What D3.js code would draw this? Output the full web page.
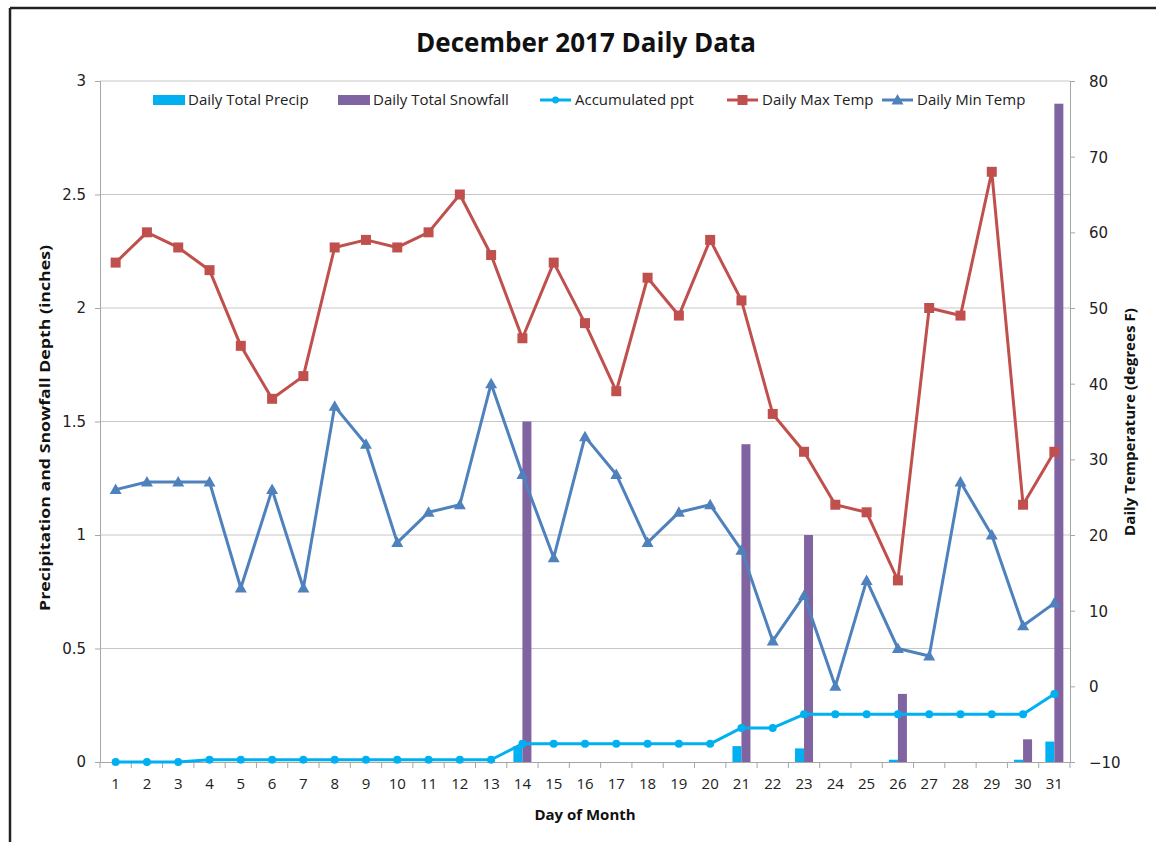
<!DOCTYPE html>
<html>
<head>
<meta charset="utf-8">
<script src="https://cdn.jsdelivr.net/npm/d3@7"></script>
<style>
  body { margin: 0; background: #fff; }
  svg { display: block; }
</style>
</head>
<body>
<svg id="chart" width="1156" height="842"></svg>
<script>
// day-by-day values
var days = d3.range(1, 32);
var dailyPrecip = [0, 0, 0, 0, 0, 0, 0, 0, 0, 0, 0, 0, 0, 0.07, 0, 0, 0, 0, 0, 0, 0.07, 0, 0.06, 0, 0, 0.01, 0, 0, 0, 0.01, 0.09];
var dailySnow = [0, 0, 0, 0, 0, 0, 0, 0, 0, 0, 0, 0, 0, 1.5, 0, 0, 0, 0, 0, 0, 1.4, 0, 1.0, 0, 0, 0.3, 0, 0, 0, 0.1, 2.9];
var accumPpt = [0, 0, 0, 0.01, 0.01, 0.01, 0.01, 0.01, 0.01, 0.01, 0.01, 0.01, 0.01, 0.08, 0.08, 0.08, 0.08, 0.08, 0.08, 0.08, 0.15, 0.15, 0.21, 0.21, 0.21, 0.21, 0.21, 0.21, 0.21, 0.21, 0.30];
var maxTemp = [56, 60, 58, 55, 45, 38, 41, 58, 59, 58, 60, 65, 57, 46, 56, 48, 39, 54, 49, 59, 51, 36, 31, 24, 23, 14, 50, 49, 68, 24, 31];
var minTemp = [26, 27, 27, 27, 13, 26, 13, 37, 32, 19, 23, 24, 40, 28, 17, 33, 28, 19, 23, 24, 18, 6, 12, 0, 14, 5, 4, 27, 20, 8, 11];
var leftTicks = [0, 0.5, 1, 1.5, 2, 2.5, 3];
var rightTicks = [-10, 0, 10, 20, 30, 40, 50, 60, 70, 80];

var colPrecip = "#00b0f0", colSnow = "#8064a2", colAccum = "#00b0f0",
    colMax = "#c0504d", colMin = "#4f81bd";

var svg = d3.select("#chart");
var margin = {top: 81, left: 100, bottom: 80, right: 86};
var W = 1156, H = 842;
var plotW = W - margin.left - margin.right;
var plotH = H - margin.top - margin.bottom;

// frame lines (top and left only visible)
svg.append("line").attr("x1", 10).attr("x2", W).attr("y1", 8).attr("y2", 8)
  .style("stroke", "#222").style("stroke-width", 2.5);
svg.append("line").attr("x1", 10).attr("x2", 10).attr("y1", 8).attr("y2", H)
  .style("stroke", "#222").style("stroke-width", 2.5);

var x = d3.scaleBand().domain(days).range([margin.left, margin.left + plotW]);
var yL = d3.scaleLinear().domain([0, 3]).range([margin.top + plotH, margin.top]);
var yR = d3.scaleLinear().domain([-10, 80]).range([margin.top + plotH, margin.top]);

var g = svg.append("g");

// gridlines
g.append("g").selectAll("line").data(leftTicks.slice(1)).join("line")
  .attr("x1", margin.left).attr("x2", margin.left + plotW)
  .attr("y1", d => yL(d)).attr("y2", d => yL(d))
  .style("stroke", "#c6c6c6").style("stroke-width", 1);

var tickFont = '"DejaVu Sans", Verdana, sans-serif';
var calFont = '"Open Sans", "Liberation Sans", sans-serif';

// left axis
var axL = g.append("g").attr("transform", "translate(" + margin.left + ",0)")
  .call(d3.axisLeft(yL).tickValues(leftTicks).tickSize(5).tickPadding(9).tickFormat(d3.format("")));
axL.select(".domain").style("stroke", "#a6a6a6");
axL.selectAll(".tick line").style("stroke", "#a6a6a6");
axL.selectAll("text").style("font-family", tickFont).style("font-size", "15px").style("fill", "#222");

// right axis
var axR = g.append("g").attr("transform", "translate(" + (margin.left + plotW) + ",0)")
  .call(d3.axisRight(yR).tickValues(rightTicks).tickSize(5).tickPadding(14));
axR.select(".domain").style("stroke", "#a6a6a6");
axR.selectAll(".tick line").style("stroke", "#a6a6a6");
axR.selectAll("text").style("font-family", tickFont).style("font-size", "15px").style("fill", "#222")
  .attr("dy", "0.36em");

// bottom axis
var axB = g.append("g").attr("transform", "translate(0," + (margin.top + plotH) + ")")
  .call(d3.axisBottom(x).tickSize(0).tickPadding(16));
axB.select(".domain").style("stroke", "#a6a6a6");
axB.selectAll("text").style("font-family", calFont).style("font-size", "15px").style("fill", "#222");
// category boundary ticks
g.append("g").selectAll("line").data(days.concat([32])).join("line")
  .attr("x1", d => d <= 31 ? x(d) : margin.left + plotW)
  .attr("x2", d => d <= 31 ? x(d) : margin.left + plotW)
  .attr("y1", margin.top + plotH).attr("y2", margin.top + plotH + 6)
  .style("stroke", "#a6a6a6");

// bars
var barW = 9;
var cx = d => x(d) + x.bandwidth() / 2;
g.append("g").selectAll("rect").data(days).join("rect")
  .attr("x", d => cx(d) - barW)
  .attr("width", barW)
  .attr("y", (d, i) => yL(dailyPrecip[i]))
  .attr("height", (d, i) => yL(0) - yL(dailyPrecip[i]))
  .style("fill", colPrecip);
g.append("g").selectAll("rect").data(days).join("rect")
  .attr("x", d => cx(d))
  .attr("width", barW)
  .attr("y", (d, i) => yL(dailySnow[i]))
  .attr("height", (d, i) => yL(0) - yL(dailySnow[i]))
  .style("fill", colSnow);

// lines
function drawSeries(vals, scale, color, marker) {
  var line = d3.line().x((d, i) => cx(days[i])).y(d => scale(d));
  var s = g.append("g");
  s.append("path").datum(vals).attr("d", line)
    .style("fill", "none").style("stroke", color).style("stroke-width", 3)
    .style("stroke-linejoin", "round");
  var m = s.selectAll(".m").data(vals).join("path")
    .attr("transform", (d, i) => "translate(" + cx(days[i]) + "," + scale(d) + ")")
    .style("fill", color);
  if (marker == "circle") m.attr("d", d3.symbol(d3.symbolCircle, 50)());
  if (marker == "square") m.attr("d", "M-5,-5H5V5H-5Z");
  if (marker == "triangle") m.attr("d", "M0,-6L6,4.5H-6Z");
}
drawSeries(accumPpt, yL, colAccum, "circle");
drawSeries(maxTemp, yR, colMax, "square");
drawSeries(minTemp, yR, colMin, "triangle");

// title
svg.append("text").attr("x", 586).attr("y", 52).attr("text-anchor", "middle")
  .style("font-family", calFont).style("font-weight", "bold").style("font-size", "26px")
  .style("fill", "#111").text("December 2017 Daily Data");

// axis titles
svg.append("text").attr("x", 585).attr("y", 820).attr("text-anchor", "middle")
  .style("font-family", calFont).style("font-weight", "bold").style("font-size", "15px")
  .style("fill", "#111").text("Day of Month");
svg.append("text").attr("transform", "translate(50,428) rotate(-90)").attr("text-anchor", "middle")
  .style("font-family", calFont).style("font-weight", "bold").style("font-size", "14px")
  .attr("textLength", 366).attr("lengthAdjust", "spacingAndGlyphs")
  .style("fill", "#111").text("Precipitation and Snowfall Depth (inches)");
svg.append("text").attr("transform", "translate(1135,422) rotate(-90)").attr("text-anchor", "middle")
  .style("font-family", calFont).style("font-weight", "bold").style("font-size", "14px")
  .attr("textLength", 228).attr("lengthAdjust", "spacingAndGlyphs")
  .style("fill", "#111").text("Daily Temperature (degrees F)");

// legend
var legendItems = [
  {name: "Daily Total Precip", color: colPrecip, type: "bar", x: 153},
  {name: "Daily Total Snowfall", color: colSnow, type: "bar", x: 338},
  {name: "Accumulated ppt", color: colAccum, type: "circle", x: 540},
  {name: "Daily Max Temp", color: colMax, type: "square", x: 727},
  {name: "Daily Min Temp", color: colMin, type: "triangle", x: 882}
];
var lg = svg.append("g").attr("class", "legend");
legendItems.forEach(function (it) {
  var ly = 100;
  if (it.type == "bar") {
    lg.append("rect").attr("x", it.x).attr("y", ly - 5).attr("width", 32).attr("height", 10).style("fill", it.color);
  } else {
    lg.append("line").attr("x1", it.x).attr("x2", it.x + 31).attr("y1", ly).attr("y2", ly)
      .style("stroke", it.color).style("stroke-width", 3);
    var mk = lg.append("path").attr("transform", "translate(" + (it.x + 15.5) + "," + ly + ")").style("fill", it.color);
    if (it.type == "circle") mk.attr("d", d3.symbol(d3.symbolCircle, 36)());
    if (it.type == "square") mk.attr("d", "M-5,-5H5V5H-5Z");
    if (it.type == "triangle") mk.attr("d", "M0,-6L6,4.5H-6Z");
  }
  lg.append("text").attr("x", it.x + 35).attr("y", ly + 5)
    .style("font-family", calFont).style("font-size", "15px").style("fill", "#222")
    .text(it.name);
});
</script>
</body>
</html>
